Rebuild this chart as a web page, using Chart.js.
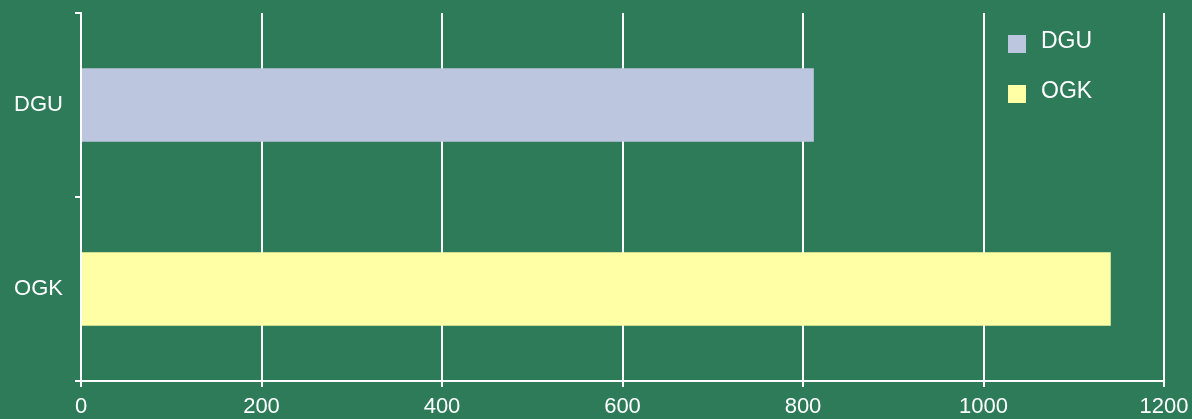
<!DOCTYPE html>
<html lang="en">
<head>
    <meta charset="UTF-8">
    <title>DGU vs OGK</title>
    <script src="https://cdn.jsdelivr.net/npm/chart.js"></script>
    <style>
        html, body {
            margin: 0;
            padding: 0;
            background: #2E7B5A;
            overflow: hidden;
        }
        canvas {
            display: block;
        }
    </style>
</head>
<body>
    <canvas id="barChart" width="1192" height="419"></canvas>

    <script>
        // Chart data
        const categories = ['DGU', 'OGK'];
        const values = [812, 1141];
        const barColors = ['#BDC6DF', '#FFFFA6'];
        const xTicks = [0, 200, 400, 600, 800, 1000, 1200];

        // Legend drawn inside the plot, top right
        const cornerLegend = {
            id: 'cornerLegend',
            afterDraw(chart) {
                const ctx = chart.ctx;
                const labels = chart.data.labels;
                const colors = chart.data.datasets[0].backgroundColor;
                ctx.save();
                ctx.font = '23px "Liberation Sans", Arial, sans-serif';
                ctx.textBaseline = 'alphabetic';
                ctx.textAlign = 'left';
                labels.forEach((label, i) => {
                    const y = 35 + i * 50;
                    ctx.fillStyle = colors[i];
                    ctx.fillRect(1008, y, 18, 18);
                    ctx.fillStyle = '#FFFFFF';
                    ctx.fillText(label, 1041, y + 13);
                });
                ctx.restore();
            }
        };

        const ctx = document.getElementById('barChart').getContext('2d');
        const chart = new Chart(ctx, {
            type: 'bar',
            data: {
                labels: categories,
                datasets: [{
                    label: 'Value',
                    data: values,
                    backgroundColor: barColors,
                    borderWidth: 0,
                    categoryPercentage: 0.4,
                    barPercentage: 1.0
                }]
            },
            options: {
                indexAxis: 'y',
                responsive: false,
                animation: false,
                devicePixelRatio: 1,
                layout: {
                    padding: { top: 13, right: 28, left: 0, bottom: 0 }
                },
                plugins: {
                    legend: { display: false },
                    tooltip: { enabled: false }
                },
                scales: {
                    x: {
                        min: 0,
                        max: 1200,
                        afterBuildTicks: axis => {
                            axis.ticks = xTicks.map(v => ({ value: v }));
                        },
                        afterFit: axis => {
                            axis.height = 38;
                            axis.paddingLeft = 0;
                            axis.paddingRight = 0;
                        },
                        grid: {
                            color: '#FFFFFF',
                            lineWidth: 2,
                            tickLength: 6
                        },
                        border: { display: true, color: '#FFFFFF', width: 2 },
                        ticks: {
                            color: '#FFFFFF',
                            padding: 7,
                            maxRotation: 0,
                            callback: v => String(v),
                            font: { family: '"Liberation Sans", Arial, sans-serif', size: 22 }
                        }
                    },
                    y: {
                        afterFit: axis => {
                            axis.width = 81;
                            axis.paddingTop = 0;
                            axis.paddingBottom = 0;
                        },
                        grid: {
                            drawOnChartArea: false,
                            color: '#FFFFFF',
                            lineWidth: 2,
                            tickLength: 6
                        },
                        border: { display: true, color: '#FFFFFF', width: 2 },
                        ticks: {
                            color: '#FFFFFF',
                            padding: 12,
                            font: { family: '"Liberation Sans", Arial, sans-serif', size: 22 }
                        }
                    }
                }
            },
            plugins: [cornerLegend]
        });
    </script>
</body>
</html>
